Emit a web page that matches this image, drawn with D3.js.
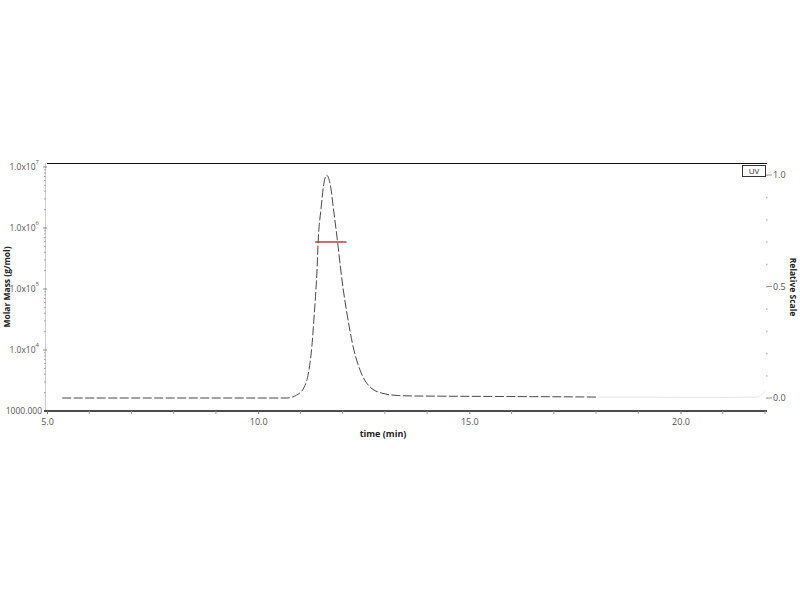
<!DOCTYPE html>
<html><head><meta charset="utf-8">
<script src="https://cdn.jsdelivr.net/npm/d3@7"></script>
<style>body{margin:0;background:#fff}svg{display:block}text{font-family:"Open Sans","DejaVu Sans",sans-serif}</style>
</head><body>
<svg id="c" width="800" height="600"></svg>
<script>
// ---- data ----
const uvTime  = [5.36, 6.0, 7.0, 8.0, 9.0, 10.0, 10.5, 10.675, 10.91, 11.09, 11.19, 11.27, 11.33, 11.37, 11.39, 11.42, 11.49, 11.54, 11.62, 11.72, 11.78, 11.88, 11.95, 12.01, 12.10, 12.25, 12.44, 12.65, 12.93, 13.32, 13.71, 14.5, 15.5, 16.5, 17.5, 18.05];
const uvValue = [0.0, 0.0, 0.0, 0.0, 0.0, 0.0, 0.0, 0.0, 0.013, 0.049, 0.112, 0.229, 0.381, 0.493, 0.56, 0.70, 0.852, 0.942, 0.999, 0.942, 0.852, 0.70, 0.583, 0.493, 0.381, 0.229, 0.112, 0.049, 0.022, 0.011, 0.009, 0.008, 0.007, 0.006, 0.005, 0.004];
const tailTime  = [18.05, 19.0, 20.0, 21.0, 21.8, 21.9, 22.0];
const tailValue = [0.004, 0.004, 0.003, 0.003, 0.004, 0.012, 0.03];
const massTime  = [11.35, 12.09];
const massValue = [5.9e5, 5.9e5];
const xTicks = [5, 10, 15, 20];
const xMinorTicks = [6, 7, 8, 9, 11, 12, 13, 14, 16, 17, 18, 19, 21, 22];
const massTicks = [1e4, 1e5, 1e6, 1e7];
const massExp = [4, 5, 6, 7];
const relTicks = [0, 0.5, 1.0];

// ---- scales ----
const svg = d3.select("#c");
const x = d3.scaleLinear().domain([5, 22]).range([47, 765]);
const yM = d3.scaleLog().domain([1000, 1e7]).range([411, 167]);
const yU = d3.scaleLinear().domain([0, 1]).range([398, 175]);

svg.append("rect").attr("width",800).attr("height",600).attr("fill","#fff");

// frame lines
svg.append("line").attr("x1",47).attr("x2",767).attr("y1",163.5).attr("y2",163.5).attr("stroke","#111").attr("stroke-width",1.2);
svg.append("line").attr("x1",45.5).attr("x2",45.5).attr("y1",163).attr("y2",411).attr("stroke","#ccc").attr("stroke-width",1);

// bottom axis
const gx = svg.append("g").attr("transform","translate(0,411)")
  .call(d3.axisBottom(x).tickValues(xTicks).tickSize(3).tickFormat(d3.format(".1f")));
gx.select(".domain").attr("stroke","#111").attr("stroke-width",1.5).attr("d","M44,0H767");
gx.selectAll(".tick line").attr("stroke","#777");
gx.selectAll("text").attr("font-size",9).attr("fill","#555").attr("dy","0.9em");
svg.append("g").selectAll("line").data(xMinorTicks).join("line")
  .attr("x1",d=>x(d)).attr("x2",d=>x(d)).attr("y1",411).attr("y2",414).attr("stroke","#999");

// left axis (log)
const minor = [];
for (let e = 3; e < 7; e++) for (let m = 2; m <= 9; m++) minor.push(m * Math.pow(10, e));
svg.append("g").selectAll("line").data(minor).join("line")
  .attr("x1",44).attr("x2",46).attr("y1",d=>yM(d)).attr("y2",d=>yM(d)).attr("stroke","#aaa");
svg.append("g").selectAll("line").data(massTicks).join("line")
  .attr("x1",43).attr("x2",47).attr("y1",d=>yM(d)).attr("y2",d=>yM(d)).attr("stroke","#888");
const ml = svg.append("g").selectAll("text").data(massTicks).join("text")
  .attr("x",39).attr("y",d=>yM(d)+3).attr("text-anchor","end").attr("font-size",8.5).attr("fill","#555");
ml.append("tspan").text("1.0x10");
ml.append("tspan").attr("font-size",6).attr("dy",-6).text((d,i)=>massExp[i]);
svg.append("text").attr("x",42).attr("y",yM(1000)+3).attr("text-anchor","end").attr("font-size",8.5).attr("fill","#555").text("1000.000");

svg.append("text").attr("transform","translate(10,287) rotate(-90)").attr("text-anchor","middle")
  .attr("font-size",8.5).attr("font-weight","bold").attr("fill","#222").text("Molar Mass (g/mol)");
svg.append("text").attr("x",383).attr("y",437).attr("text-anchor","middle")
  .attr("font-size",9).attr("font-weight","bold").attr("fill","#222").text("time (min)");

// right axis
const relMinor = d3.range(0, 1.01, 0.1);
svg.append("g").selectAll("rect").data(relMinor).join("rect")
  .attr("x",766).attr("y",d=>yU(d)-0.5).attr("width",1.5).attr("height",1.5).attr("fill","#bbb");
svg.append("g").selectAll("line").data(relTicks).join("line")
  .attr("x1",767).attr("x2",772).attr("y1",d=>yU(d)).attr("y2",d=>yU(d)).attr("stroke","#999");
svg.append("g").selectAll("text").data(relTicks).join("text")
  .attr("x",773).attr("y",d=>yU(d)+3).attr("font-size",9).attr("fill","#555").text(d=>d3.format(".1f")(d));
svg.append("text").attr("transform","translate(790,287) rotate(90)").attr("text-anchor","middle")
  .attr("font-size",8.5).attr("font-weight","bold").attr("fill","#222").text("Relative Scale");

// UV legend
svg.append("rect").attr("x",742.5).attr("y",165.5).attr("width",23).attr("height",11).attr("fill","#fff").attr("stroke","#333");
svg.append("text").attr("x",754).attr("y",174).attr("text-anchor","middle").attr("font-size",8).attr("fill","#333").text("UV");

// traces
const line = d3.line().x(d=>x(d[0])).y(d=>yU(d[1])).curve(d3.curveMonotoneX);
svg.append("path").datum(uvTime.map((t,i)=>[t,uvValue[i]])).attr("d",line)
  .attr("fill","none").attr("stroke","#333").attr("stroke-width",0.9).attr("stroke-dasharray","9,2.5");
svg.append("path").datum(tailTime.map((t,i)=>[t,tailValue[i]])).attr("d",line)
  .attr("fill","none").attr("stroke","#e4e4e4").attr("stroke-width",1);
const ml2 = d3.line().x(d=>x(d[0])).y(d=>yM(d[1]));
svg.append("path").datum(massTime.map((t,i)=>[t,massValue[i]])).attr("d",ml2)
  .attr("fill","none").attr("stroke","#b22222").attr("stroke-width",1.3);
</script>
</body></html>
